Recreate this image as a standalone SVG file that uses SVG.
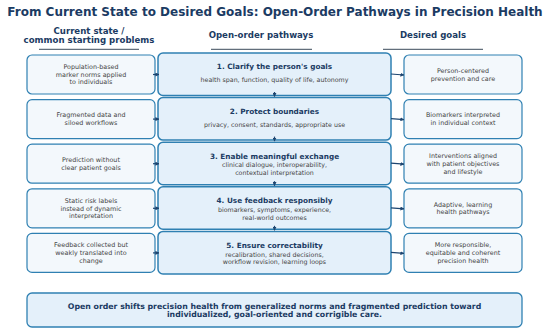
<svg xmlns="http://www.w3.org/2000/svg" width="550" height="334" viewBox="0 0 550 334">
<defs>
<marker id="ah" viewBox="0 0 10 10" refX="9" refY="5" markerWidth="4" markerHeight="4" markerUnits="userSpaceOnUse" orient="auto"><path d="M0,0 L10,5 L0,10 z" fill="#1d4570"/></marker>
<style>
.t{font-family:"DejaVu Sans",sans-serif;fill:#1b3b63;font-weight:bold;text-anchor:middle}
.h{font-family:"DejaVu Sans",sans-serif;fill:#1b3b63;font-weight:bold;font-size:8.6px;text-anchor:middle}
.s{font-family:"DejaVu Sans",sans-serif;fill:#444;font-size:6.4px;text-anchor:middle}
.m{font-family:"DejaVu Sans",sans-serif;fill:#1b3b63;font-weight:bold;font-size:7.3px;text-anchor:middle}
.ms{font-family:"DejaVu Sans",sans-serif;fill:#444;font-size:6.3px;text-anchor:middle}
.side{fill:#f3f8fc;stroke:#2f80b2;stroke-width:1.2}
.mid{fill:#e4f0fa;stroke:#2f80b2;stroke-width:1.5}
.ul{stroke:#3b4a5a;stroke-width:1}
.c{stroke:#1d4570;stroke-width:1.2;fill:none}
</style>
</defs>
<rect width="550" height="334" fill="#fff"/>
<text class="t" x="275" y="15.5" font-size="12">From Current State to Desired Goals: Open-Order Pathways in Precision Health</text>
<g id="headers">
<text class="h" x="89" y="34">Current state /</text>
<text class="h" x="89" y="42.5">common starting problems</text>
<text class="h" x="261" y="37.8">Open-order pathways</text>
<text class="h" x="433" y="37.8">Desired goals</text>
<line class="ul" x1="39" y1="49.3" x2="139" y2="49.3"/>
<line class="ul" x1="211" y1="49.3" x2="312" y2="49.3"/>
<line class="ul" x1="383" y1="49.3" x2="483" y2="49.3"/>
</g>
<g id="left1"><rect class="side" x="27" y="55" width="128" height="39" rx="5"/>
<text class="s" x="91" y="69">Population-based</text><text class="s" x="91" y="76.7">marker norms applied</text><text class="s" x="91" y="84.4">to individuals</text></g>
<g id="left2"><rect class="side" x="27" y="99.6" width="128" height="39" rx="5"/>
<text class="s" x="91" y="117.4">Fragmented data and</text><text class="s" x="91" y="125.1">siloed workflows</text></g>
<g id="left3"><rect class="side" x="27" y="144.2" width="128" height="39" rx="5"/>
<text class="s" x="91" y="162">Prediction without</text><text class="s" x="91" y="169.7">clear patient goals</text></g>
<g id="left4"><rect class="side" x="27" y="188.8" width="128" height="39" rx="5"/>
<text class="s" x="91" y="202.8">Static risk labels</text><text class="s" x="91" y="210.5">instead of dynamic</text><text class="s" x="91" y="218.2">interpretation</text></g>
<g id="left5"><rect class="side" x="27" y="233.4" width="128" height="39" rx="5"/>
<text class="s" x="91" y="247.4">Feedback collected but</text><text class="s" x="91" y="255.1">weakly translated into</text><text class="s" x="91" y="262.8">change</text></g>

<g id="mid1"><rect class="mid" x="158" y="53" width="233" height="42.5" rx="5"/>
<text class="m" x="274.5" y="69.3">1. Clarify the person's goals</text><text class="ms" x="274.5" y="82.2">health span, function, quality of life, autonomy</text></g>
<g id="mid2"><rect class="mid" x="158" y="97.6" width="233" height="42.5" rx="5"/>
<text class="m" x="274.5" y="113.9">2. Protect boundaries</text><text class="ms" x="274.5" y="126.8">privacy, consent, standards, appropriate use</text></g>
<g id="mid3"><rect class="mid" x="158" y="142.2" width="233" height="42.5" rx="5"/>
<text class="m" x="274.5" y="158.5">3. Enable meaningful exchange</text><text class="ms" x="274.5" y="167.3">clinical dialogue, interoperability,</text><text class="ms" x="274.5" y="175">contextual interpretation</text></g>
<g id="mid4"><rect class="mid" x="158" y="186.8" width="233" height="42.5" rx="5"/>
<text class="m" x="274.5" y="203.1">4. Use feedback responsibly</text><text class="ms" x="274.5" y="211.9">biomarkers, symptoms, experience,</text><text class="ms" x="274.5" y="219.6">real-world outcomes</text></g>
<g id="mid5"><rect class="mid" x="158" y="231.4" width="233" height="42.5" rx="5"/>
<text class="m" x="274.5" y="247.7">5. Ensure correctability</text><text class="ms" x="274.5" y="256.5">recalibration, shared decisions,</text><text class="ms" x="274.5" y="264.2">workflow revision, learning loops</text></g>

<g id="right1"><rect class="side" x="404" y="55" width="118" height="39" rx="5"/>
<text class="s" x="463" y="72.9">Person-centered</text><text class="s" x="463" y="80.6">prevention and care</text></g>
<g id="right2"><rect class="side" x="404" y="99.6" width="118" height="39" rx="5"/>
<text class="s" x="463" y="117.4">Biomarkers interpreted</text><text class="s" x="463" y="125.1">in individual context</text></g>
<g id="right3"><rect class="side" x="404" y="144.2" width="118" height="39" rx="5"/>
<text class="s" x="463" y="158.2">Interventions aligned</text><text class="s" x="463" y="165.9">with patient objectives</text><text class="s" x="463" y="173.6">and lifestyle</text></g>
<g id="right4"><rect class="side" x="404" y="188.8" width="118" height="39" rx="5"/>
<text class="s" x="463" y="206.6">Adaptive, learning</text><text class="s" x="463" y="214.3">health pathways</text></g>
<g id="right5"><rect class="side" x="404" y="233.4" width="118" height="39" rx="5"/>
<text class="s" x="463" y="247.4">More responsible,</text><text class="s" x="463" y="255.1">equitable and coherent</text><text class="s" x="463" y="262.8">precision health</text></g>

<g id="summary"><rect class="mid" x="27" y="293" width="495" height="34" rx="5" style="stroke-width:1.3"/>
<text class="t" x="274.5" y="308.8" font-size="7.8">Open order shifts precision health from generalized norms and fragmented prediction toward</text>
<text class="t" x="274.5" y="316.5" font-size="7.8">individualized, goal-oriented and corrigible care.</text></g>

<g id="connectors">
<line class="c" x1="153" y1="74.5" x2="159" y2="74.5" marker-end="url(#ah)"/>
<line class="c" x1="153" y1="119.1" x2="159" y2="119.1" marker-end="url(#ah)"/>
<line class="c" x1="153" y1="163.7" x2="159" y2="163.7" marker-end="url(#ah)"/>
<line class="c" x1="153" y1="208.3" x2="159" y2="208.3" marker-end="url(#ah)"/>
<line class="c" x1="153" y1="252.9" x2="159" y2="252.9" marker-end="url(#ah)"/>
<line class="c" x1="391" y1="74" x2="404" y2="75" marker-end="url(#ah)"/>
<line class="c" x1="391" y1="118.6" x2="404" y2="119.6" marker-end="url(#ah)"/>
<line class="c" x1="391" y1="163.2" x2="404" y2="164.2" marker-end="url(#ah)"/>
<line class="c" x1="391" y1="207.8" x2="404" y2="208.8" marker-end="url(#ah)"/>
<line class="c" x1="391" y1="252.4" x2="404" y2="253.4" marker-end="url(#ah)"/>
<line class="c" x1="274.5" y1="92" x2="274.5" y2="96.5" marker-end="url(#ah)"/>
<line class="c" x1="274.5" y1="136.6" x2="274.5" y2="141.1" marker-end="url(#ah)"/>
<line class="c" x1="274.5" y1="181.2" x2="274.5" y2="185.7" marker-end="url(#ah)"/>
<line class="c" x1="274.5" y1="225.8" x2="274.5" y2="230.3" marker-end="url(#ah)"/>
</g>
</svg>
